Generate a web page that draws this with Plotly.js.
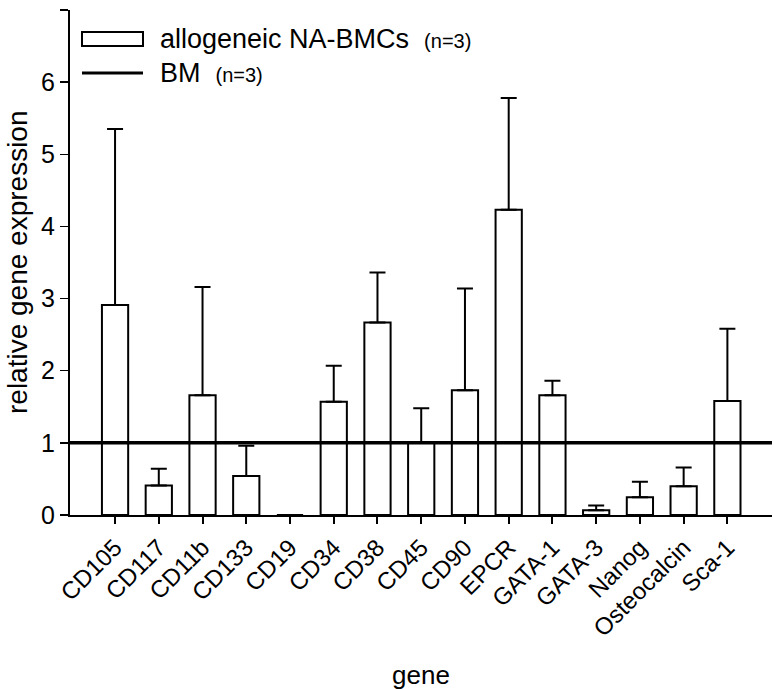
<!DOCTYPE html>
<html>
<head>
<meta charset="utf-8">
<script src="https://cdn.plot.ly/plotly-3.0.1.min.js"></script>
<style>html,body{margin:0;padding:0;background:#fff;}#chart{width:774px;height:689px;}</style>
</head>
<body>
<div id="chart"></div>
<script>
// ---- data ----
var genes = ["CD105","CD117","CD11b","CD133","CD19","CD34","CD38","CD45","CD90","EPCR","GATA-1","GATA-3","Nanog","Osteocalcin","Sca-1"];
var naBmcMean = [2.91, 0.41, 1.66, 0.54, 0, 1.57, 2.67, 1.0, 1.73, 4.23, 1.66, 0.065, 0.245, 0.40, 1.58];
var naBmcErrTop = [5.35, 0.64, 3.16, 0.96, 0, 2.07, 3.36, 1.48, 3.14, 5.78, 1.86, 0.13, 0.46, 0.66, 2.58];
var bmLevel = [1];
var yTickVals = [0,1,2,3,4,5,6,7];
var legendNames = ["allogeneic NA-BMCs", "BM"];
var legendN = ["(n=3)", "(n=3)"];

var naBmcErr = naBmcMean.map(function(v,i){ return +(naBmcErrTop[i]-v).toFixed(3); });
var zeros = naBmcMean.map(function(){ return 0; });

// layout geometry (pixels)
var W = 774, H = 689, ML = 70, MR = 2, MT = 10, MB = 174;
var PW = W - ML - MR, PH = H - MT - MB;
function px(x){ return (x - ML) / PW; }
function py(y){ return (H - MB - y) / PH; }

var font = "Liberation Sans, Arial, Helvetica, sans-serif";

var traces = [{
  type: "bar",
  x: genes,
  y: naBmcMean,
  width: 0.6,
  marker: {color: "#ffffff", line: {color: "#000000", width: 2}},
  error_y: {type: "data", symmetric: false, array: naBmcErr, arrayminus: zeros,
            color: "#000000", thickness: 2, width: 8},
  showlegend: false,
  hoverinfo: "x+y"
}];

var shapes = [
  {type: "line", xref: "paper", yref: "y", x0: 0, x1: 1, y0: bmLevel[0], y1: bmLevel[0],
   line: {color: "#000", width: 3.5}, layer: "above"},
  // legend symbols
  {type: "rect", xref: "paper", yref: "paper", x0: px(82), x1: px(143), y0: py(46), y1: py(32),
   line: {color: "#000", width: 2}, fillcolor: "#fff"},
  {type: "line", xref: "paper", yref: "paper", x0: px(82), x1: px(143), y0: py(73), y1: py(73),
   line: {color: "#000", width: 3}}
];

var annotations = [
  {xref: "paper", yref: "paper", x: px(158), y: py(39), xanchor: "left", yanchor: "middle",
   showarrow: false, font: {family: font, size: 27, color: "#000"},
   text: legendNames[0] + '  <span style="font-size:20px">' + legendN[0] + '</span>'},
  {xref: "paper", yref: "paper", x: px(158), y: py(73), xanchor: "left", yanchor: "middle",
   showarrow: false, font: {family: font, size: 27, color: "#000"},
   text: legendNames[1] + '  <span style="font-size:20px">' + legendN[1] + '</span>'},
  {xref: "paper", yref: "paper", x: px(17), y: py(262), xanchor: "center", yanchor: "middle",
   textangle: -90, showarrow: false, font: {family: font, size: 28, color: "#000"},
   text: "relative gene expression"},
  {xref: "paper", yref: "paper", x: px(421), y: py(675), xanchor: "center", yanchor: "middle",
   showarrow: false, font: {family: font, size: 26, color: "#000"},
   text: "gene"}
];

var layout = {
  width: W, height: H,
  margin: {l: ML, r: MR, t: MT, b: MB, pad: 0},
  paper_bgcolor: "#fff", plot_bgcolor: "#fff",
  showlegend: false,
  bargap: 0.4,
  font: {family: font, color: "#000"},
  xaxis: {
    type: "category", range: [-1.03, 15.02],
    showline: true, linecolor: "#000", linewidth: 2,
    ticks: "outside", ticklen: 7, tickwidth: 2, tickcolor: "#000",
    tickangle: -45, tickfont: {family: font, size: 24, color: "#000"},
    showgrid: false, zeroline: false, fixedrange: true
  },
  yaxis: {
    range: [0, 7], tickvals: yTickVals,
    showline: true, linecolor: "#000", linewidth: 2,
    ticks: "outside", ticklen: 8, tickwidth: 1.5, tickcolor: "#000",
    tickfont: {family: font, size: 25, color: "#000"},
    showgrid: false, zeroline: false, fixedrange: true
  },
  shapes: shapes,
  annotations: annotations
};

Plotly.newPlot("chart", traces, layout, {displayModeBar: false, staticPlot: true});
</script>
</body>
</html>
